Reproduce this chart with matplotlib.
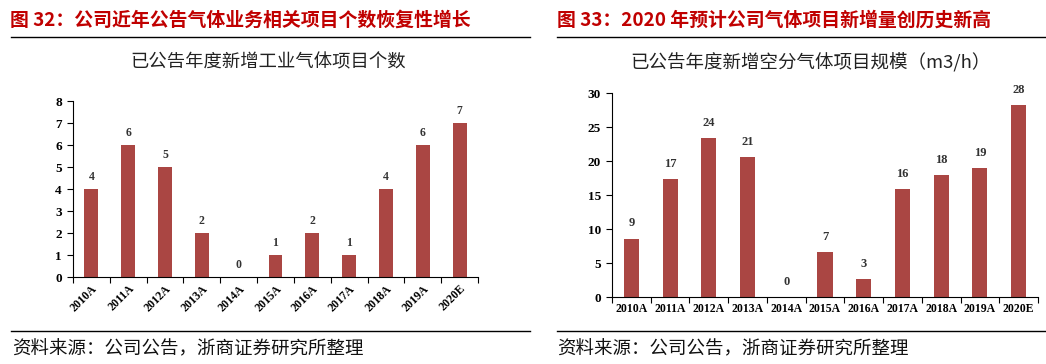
import matplotlib.pyplot as plt
import numpy as np

plt.rcParams['font.family'] = ['Noto Sans CJK SC', 'DejaVu Sans']

years = ["2010A", "2011A", "2012A", "2013A", "2014A", "2015A", "2016A",
         "2017A", "2018A", "2019A", "2020E"]
# left chart: number of new industrial gas projects
projects = [4, 6, 5, 2, 0, 1, 2, 1, 4, 6, 7]
# right chart: new air separation project scale (m3/h)
scale = [8.6, 17.3, 23.4, 20.6, 0, 6.6, 2.6, 15.9, 17.9, 19.0, 28.2]
scale_labels = ["9", "17", "24", "21", "0", "7", "3", "16", "18", "19", "28"]

bar_color = "#AA4643"
red = "#C00000"
num_font = ["Liberation Serif", "DejaVu Serif"]

fig = plt.figure(figsize=(10.46, 3.64), dpi=100)

# headers and separator lines
fig.text(10/1046, 1 - 20/364, "图 32：公司近年公告气体业务相关项目个数恢复性增长",
         color=red, fontsize=13.6, fontweight="bold", va="center", ha="left")
fig.text(557/1046, 1 - 20/364, "图 33：2020 年预计公司气体项目新增量创历史新高",
         color=red, fontsize=13.6, fontweight="bold", va="center", ha="left")
for x0, x1 in [(11, 530), (557, 1046)]:
    for yy in [37, 331]:
        fig.add_artist(plt.Line2D([x0/1046, x1/1046], [1 - yy/364, 1 - yy/364],
                                  color="black", lw=1.0))
fig.text(12/1046, 1 - 349/364, "资料来源：公司公告，浙商证券研究所整理",
         fontsize=13.3, va="center", ha="left", color="#111111")
fig.text(557/1046, 1 - 349/364, "资料来源：公司公告，浙商证券研究所整理",
         fontsize=13.3, va="center", ha="left", color="#111111")

# chart titles
fig.text(268/1046, 1 - 62/364, "已公告年度新增工业气体项目个数",
         fontsize=13.2, va="center", ha="center", color="#222222")
fig.text(810/1046, 1 - 63/364, "已公告年度新增空分气体项目规模（m3/h）",
         fontsize=13.3, va="center", ha="center", color="#222222")


def style_axes(ax, n):
    ax.spines["top"].set_visible(False)
    ax.spines["right"].set_visible(False)
    ax.spines["left"].set_linewidth(0.8)
    ax.spines["bottom"].set_linewidth(0.8)
    ax.set_xlim(-0.5, n - 0.5)
    ax.set_xticks(np.arange(n))
    ax.set_xticks(np.arange(n + 1) - 0.5, minor=True)
    ax.tick_params(axis="x", which="major", length=0, pad=4)
    ax.tick_params(axis="x", which="minor", length=4, width=0.8, direction="out")
    ax.tick_params(axis="y", length=4, width=0.8, direction="out", pad=4)
    for lab in ax.get_yticklabels():
        lab.set_family(num_font)
        lab.set_fontweight("bold")
        lab.set_fontsize(9.5)


# left chart
ax1 = fig.add_axes([73/1046, 87/364, 405/1046, 176/364])
x = np.arange(len(years))
ax1.bar(x, projects, width=0.38, color=bar_color)
ax1.set_ylim(0, 8)
ax1.set_yticks(range(0, 9))
style_axes(ax1, len(years))
ax1.set_xticklabels(years, rotation=45, ha="right", rotation_mode="anchor",
                    family=num_font, fontweight="bold", fontsize=8.5)
for xi, v in zip(x, projects):
    ax1.annotate(str(v), (xi, v), xytext=(0, 8.5), textcoords="offset points",
                 ha="center", va="center", family=num_font, fontweight="bold",
                 fontsize=8.5, color="#333333")

# right chart
ax2 = fig.add_axes([612/1046, 67/364, 426/1046, 204/364])
ax2.bar(x, scale, width=0.39, color=bar_color)
ax2.set_ylim(0, 30)
ax2.set_yticks(range(0, 31, 5))
style_axes(ax2, len(years))
ax2.set_xticklabels(years, family=num_font, fontweight="bold", fontsize=8.5)
for xi, v, t in zip(x, scale, scale_labels):
    ax2.annotate(t, (xi, v), xytext=(0, 11), textcoords="offset points",
                 ha="center", va="center", family=num_font, fontweight="bold",
                 fontsize=9, color="#333333")

fig.savefig("out.png", dpi=100)
